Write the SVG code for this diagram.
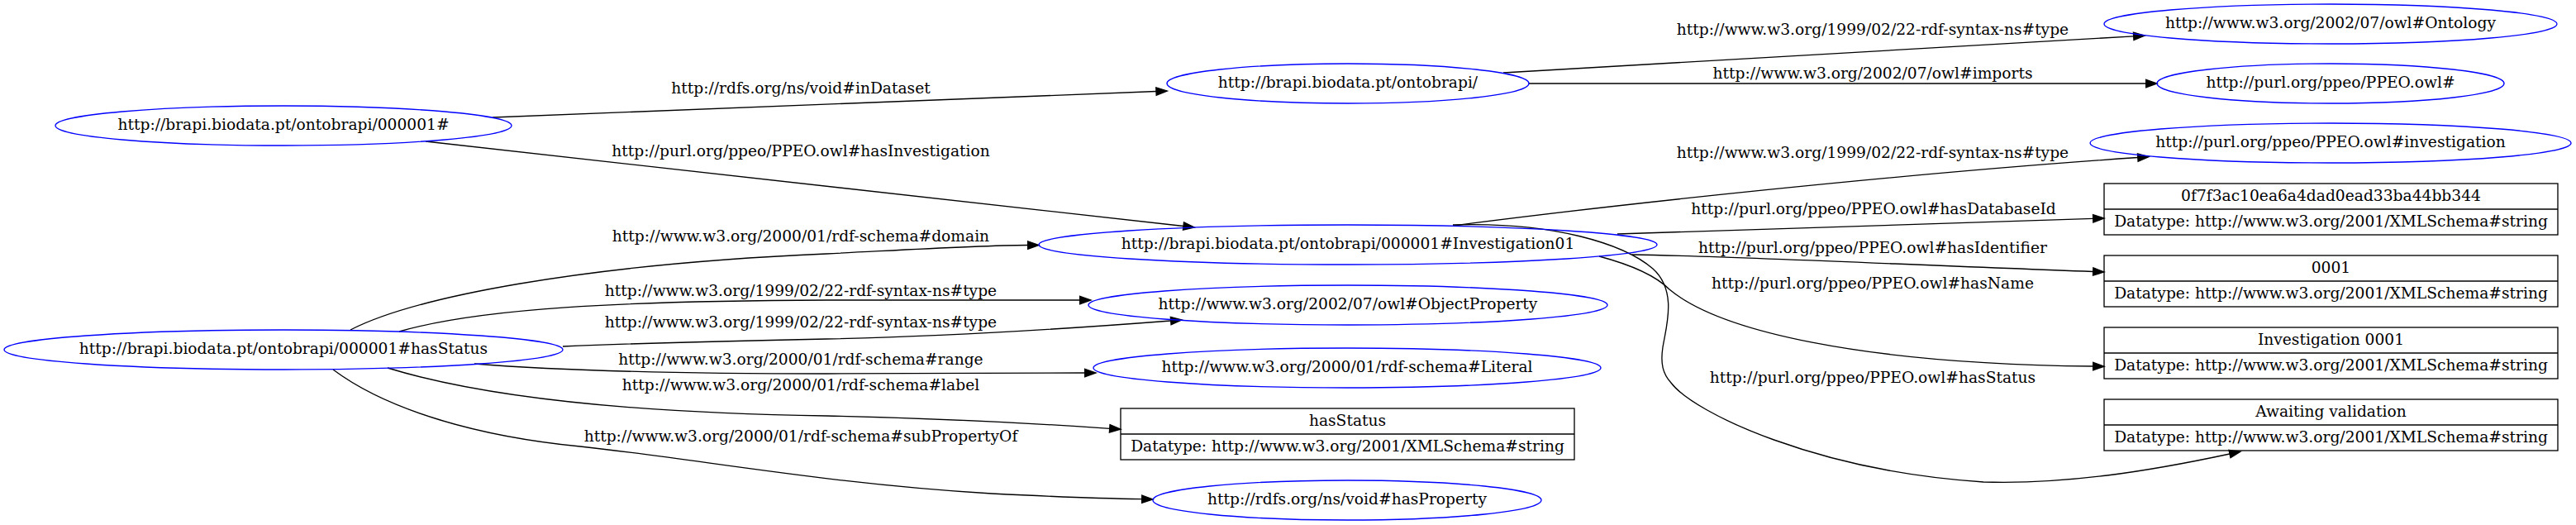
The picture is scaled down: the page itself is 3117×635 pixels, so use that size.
<svg xmlns="http://www.w3.org/2000/svg" width="3117" height="635" viewBox="0 0 3117 635">
<style>
text{font-family:"DejaVu Serif",serif;font-size:18.67px;fill:#000;text-anchor:middle}
.ell{fill:none;stroke:#0000ff;stroke-width:1.33}
.rec{fill:none;stroke:#000;stroke-width:1.33}
.edge{fill:none;stroke:#000;stroke-width:1.33;marker-end:url(#arr)}
</style>
<defs>
<marker id="arr" markerUnits="userSpaceOnUse" markerWidth="15" markerHeight="11" viewBox="0 0 15 11" refX="0.5" refY="5.5" orient="auto" overflow="visible">
<path d="M0.5,0.8 L13.8,5.5 L0.5,10.2 Z" fill="#000" stroke="#000" stroke-width="1.33"/>
</marker>
</defs>
<rect x="0" y="0" width="3117" height="635" fill="#fff"/>
<g id="edges">
<path class="edge" d="M596,142 L1399,110.5"/>
<path class="edge" d="M515,171 L1432,273.5"/>
<path class="edge" d="M424,399 C500,360 700,320 1000,307 C1100,302 1180,297 1243.7,296.5"/>
<path class="edge" d="M483,401 C580,373 750,364 1000,363 L1306.7,363"/>
<path class="edge" d="M681,419 C800,414 900,412 1000,410 C1150,407 1300,397 1416.7,388"/>
<path class="edge" d="M574,440 C700,450 850,452 1000,452 L1312.7,451"/>
<path class="edge" d="M469,445 C600,485 800,500 1000,503 C1150,506 1250,512 1342.7,518.3"/>
<path class="edge" d="M403,447 C470,497 580,528 702,540 C850,556 1000,585 1200,597 C1280,601 1340,603 1381.7,603.7"/>
<path class="edge" d="M1819,88 L2581.7,43.8"/>
<path class="edge" d="M1850,101 L2596.7,101"/>
<path class="edge" d="M1758,273 C1950,248 2300,210 2586.8,190.5"/>
<path class="edge" d="M1957,283 L2532.7,264.4"/>
<path class="edge" d="M1975,308 C2100,310 2300,320 2532.7,328.5"/>
<path class="edge" d="M1935,310 C1980,322 2005,335 2020,350 C2080,400 2250,440 2532.7,443"/>
<path class="edge" d="M1758,272 C1880,268 1965,295 2000,325 C2030,352 2016,395 2012,420 C2009,440 2012,452 2022,463 C2050,500 2200,570 2400,583 C2500,586 2600,570 2698,549"/>
<text x="969" y="113">http://rdfs.org/ns/void#inDataset</text>
<text x="969" y="189">http://purl.org/ppeo/PPEO.owl#hasInvestigation</text>
<text x="969" y="292">http://www.w3.org/2000/01/rdf-schema#domain</text>
<text x="969" y="358">http://www.w3.org/1999/02/22-rdf-syntax-ns#type</text>
<text x="969" y="396">http://www.w3.org/1999/02/22-rdf-syntax-ns#type</text>
<text x="969" y="441">http://www.w3.org/2000/01/rdf-schema#range</text>
<text x="969" y="472">http://www.w3.org/2000/01/rdf-schema#label</text>
<text x="969" y="534">http://www.w3.org/2000/01/rdf-schema#subPropertyOf</text>
<text x="2266" y="42">http://www.w3.org/1999/02/22-rdf-syntax-ns#type</text>
<text x="2266" y="95">http://www.w3.org/2002/07/owl#imports</text>
<text x="2266" y="191">http://www.w3.org/1999/02/22-rdf-syntax-ns#type</text>
<text x="2267" y="259">http://purl.org/ppeo/PPEO.owl#hasDatabaseId</text>
<text x="2266" y="306">http://purl.org/ppeo/PPEO.owl#hasIdentifier</text>
<text x="2266" y="349">http://purl.org/ppeo/PPEO.owl#hasName</text>
<text x="2266" y="463">http://purl.org/ppeo/PPEO.owl#hasStatus</text>
</g>
<g id="n_000001">
<ellipse class="ell" cx="343" cy="152" rx="276" ry="24"/>
<text x="343" y="157">http://brapi.biodata.pt/ontobrapi/000001#</text>
</g>
<g id="n_ontobrapi">
<ellipse class="ell" cx="1631" cy="101" rx="219" ry="24"/>
<text x="1631" y="106">http://brapi.biodata.pt/ontobrapi/</text>
</g>
<g id="n_investigation01">
<ellipse class="ell" cx="1631" cy="296" rx="374" ry="24"/>
<text x="1631" y="301">http://brapi.biodata.pt/ontobrapi/000001#Investigation01</text>
</g>
<g id="n_ontology">
<ellipse class="ell" cx="2820" cy="29" rx="274" ry="24"/>
<text x="2820" y="34">http://www.w3.org/2002/07/owl#Ontology</text>
</g>
<g id="n_ppeo">
<ellipse class="ell" cx="2820" cy="101" rx="210" ry="24"/>
<text x="2820" y="106">http://purl.org/ppeo/PPEO.owl#</text>
</g>
<g id="n_ppeo_investigation">
<ellipse class="ell" cx="2820" cy="173" rx="291" ry="24"/>
<text x="2820" y="178">http://purl.org/ppeo/PPEO.owl#investigation</text>
</g>
<g id="n_dbid">
<rect class="rec" x="2546" y="222" width="549" height="62"/>
<line class="rec" x1="2546" y1="253" x2="3095" y2="253"/>
<text x="2820.5" y="242.5">0f7f3ac10ea6a4dad0ead33ba44bb344</text>
<text x="2820.5" y="273.5">Datatype: http://www.w3.org/2001/XMLSchema#string</text>
</g>
<g id="n_identifier">
<rect class="rec" x="2546" y="309" width="549" height="62"/>
<line class="rec" x1="2546" y1="340" x2="3095" y2="340"/>
<text x="2820.5" y="329.5">0001</text>
<text x="2820.5" y="360.5">Datatype: http://www.w3.org/2001/XMLSchema#string</text>
</g>
<g id="n_name">
<rect class="rec" x="2546" y="396" width="549" height="62"/>
<line class="rec" x1="2546" y1="427" x2="3095" y2="427"/>
<text x="2820.5" y="416.5">Investigation 0001</text>
<text x="2820.5" y="447.5">Datatype: http://www.w3.org/2001/XMLSchema#string</text>
</g>
<g id="n_status_value">
<rect class="rec" x="2546" y="483" width="549" height="62"/>
<line class="rec" x1="2546" y1="514" x2="3095" y2="514"/>
<text x="2820.5" y="503.5">Awaiting validation</text>
<text x="2820.5" y="534.5">Datatype: http://www.w3.org/2001/XMLSchema#string</text>
</g>
<g id="n_hasStatus">
<ellipse class="ell" cx="343" cy="423" rx="338" ry="24"/>
<text x="343" y="428">http://brapi.biodata.pt/ontobrapi/000001#hasStatus</text>
</g>
<g id="n_objectproperty">
<ellipse class="ell" cx="1631" cy="369" rx="314" ry="24"/>
<text x="1631" y="374">http://www.w3.org/2002/07/owl#ObjectProperty</text>
</g>
<g id="n_literal">
<ellipse class="ell" cx="1630" cy="445" rx="307" ry="24"/>
<text x="1630" y="450">http://www.w3.org/2000/01/rdf-schema#Literal</text>
</g>
<g id="n_label">
<rect class="rec" x="1356" y="494" width="549" height="62"/>
<line class="rec" x1="1356" y1="525" x2="1905" y2="525"/>
<text x="1630.5" y="514.5">hasStatus</text>
<text x="1630.5" y="545.5">Datatype: http://www.w3.org/2001/XMLSchema#string</text>
</g>
<g id="n_hasProperty">
<ellipse class="ell" cx="1630" cy="605" rx="235" ry="24"/>
<text x="1630" y="610">http://rdfs.org/ns/void#hasProperty</text>
</g>
</svg>
